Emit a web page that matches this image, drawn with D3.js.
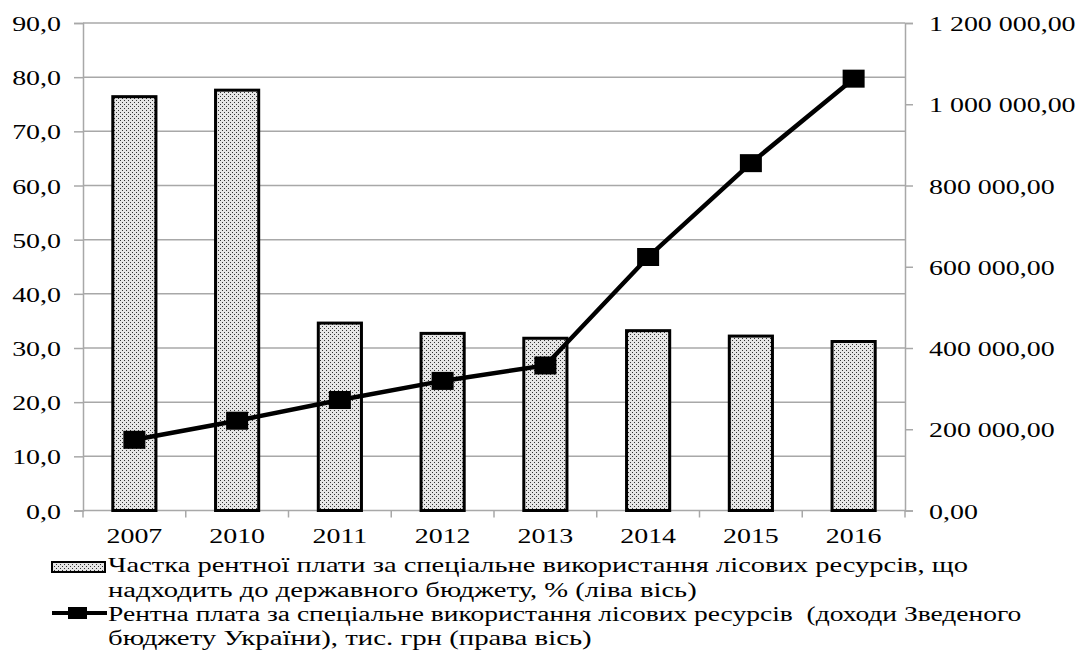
<!DOCTYPE html>
<html><head><meta charset="utf-8">
<script src="https://cdn.jsdelivr.net/npm/d3@7"></script>
<style>body{margin:0;background:#fff}svg{display:block}</style>
</head><body><svg id="c" width="1082" height="655"></svg>
<script>
const years = ["2007","2010","2011","2012","2013","2014","2015","2016"];
const shareValues = [76.4, 77.6, 34.6, 32.7, 31.8, 33.2, 32.2, 31.2];
const rentValues = [174000, 221000, 272000, 319000, 357000, 624000, 855000, 1063000];
const leftTicks = [0,10,20,30,40,50,60,70,80,90];
const rightTicks = [0,200000,400000,600000,800000,1000000,1200000];
const legendLines1 = ["Частка рентної плати за спеціальне використання лісових ресурсів, що","надходить до державного бюджету, % (ліва вісь)"];
const legendLines2 = ["Рентна плата за спеціальне використання лісових ресурсів  (доходи Зведеного","бюджету України), тис. грн (права вісь)"];

const FONT = "Liberation Serif";
const svg = d3.select("#c");
const L = 83, R = 905, T = 23, B = 510.5;
const STRETCH = 1.27;
const grid = "#a8a8a8";

const defs = svg.append("defs");
const pat = defs.append("pattern").attr("id","dots").attr("patternUnits","userSpaceOnUse").attr("width",4).attr("height",4);
pat.append("rect").attr("width",4).attr("height",4).attr("fill","#e6e6e6");
pat.append("rect").attr("x",0).attr("y",0).attr("width",1).attr("height",1).attr("fill","#333");
pat.append("rect").attr("x",2).attr("y",2).attr("width",1).attr("height",1).attr("fill","#333");

const x = d3.scaleBand().domain(years).range([L,R]).paddingInner(0.58).paddingOuter(0.29);
const yL = d3.scaleLinear().domain([0,90]).range([B,T]);
const yR = d3.scaleLinear().domain([0,1200000]).range([B,T]);
const step = x.step();

// add horizontally stretched text
function addText(parent, str, px, py, size, anchor, targetLen){
  const t = parent.append("text").attr("font-family",FONT).attr("fill","#000")
    .attr("font-size",size).attr("text-anchor",anchor).attr("xml:space","preserve").text(str);
  const n = t.node().getComputedTextLength();
  const sx = targetLen != null ? targetLen / n : STRETCH;
  t.attr("transform",`translate(${px},${py}) scale(${sx},1)`);
  return t;
}

svg.append("g").selectAll("line").data(leftTicks.filter(d=>d>0)).join("line")
  .attr("x1",L).attr("x2",R).attr("y1",d=>yL(d)).attr("y2",d=>yL(d))
  .attr("stroke",grid).attr("stroke-width",1.5);

const fmtL = d => d.toFixed(1).replace(".",",");
const fmtR = d => d3.format(",.2f")(d).replace(/,/g," ").replace(".",",");

const gL = svg.append("g").attr("transform",`translate(${L},0)`)
  .call(d3.axisLeft(yL).tickValues(leftTicks).tickSize(9).tickFormat(""));
const gR = svg.append("g").attr("transform",`translate(${R},0)`)
  .call(d3.axisRight(yR).tickValues(rightTicks).tickSize(8).tickFormat(""));
[gL,gR].forEach(g=>{g.selectAll("path,line").attr("stroke",grid).attr("stroke-width",1.5);});

svg.append("line").attr("x1",L).attr("x2",R).attr("y1",B).attr("y2",B).attr("stroke",grid).attr("stroke-width",1.5);
const bounds = years.map(d => x(d) - x.paddingInner()*step/2).concat([x(years[years.length-1]) + x.bandwidth() + x.paddingInner()*step/2]);
svg.append("g").selectAll("line").data(bounds).join("line")
  .attr("x1",d=>d).attr("x2",d=>d).attr("y1",B).attr("y2",B+7)
  .attr("stroke",grid).attr("stroke-width",1.5);

const gLT = svg.append("g");
leftTicks.forEach(d => addText(gLT, fmtL(d), 61, yL(d)+8, 22, "end"));
const gRT = svg.append("g");
rightTicks.forEach(d => addText(gRT, fmtR(d), 929, yR(d)+8, 22, "start"));
const gXT = svg.append("g");
years.forEach(d => addText(gXT, d, x(d)+x.bandwidth()/2, 543, 22, "middle"));

svg.append("g").selectAll("rect").data(years).join("rect")
  .attr("x",d=>x(d)).attr("width",x.bandwidth())
  .attr("y",(d,i)=>yL(shareValues[i])).attr("height",(d,i)=>B - yL(shareValues[i]))
  .attr("fill","url(#dots)").attr("stroke","#000").attr("stroke-width",3);

const line = d3.line().x((d,i)=>x(years[i])+x.bandwidth()/2).y(d=>yR(d));
svg.append("path").datum(rentValues).attr("d",line).attr("fill","none").attr("stroke","#000").attr("stroke-width",4.5);
svg.append("g").selectAll("rect").data(rentValues).join("rect")
  .attr("x",(d,i)=>x(years[i])+x.bandwidth()/2-11).attr("y",d=>yR(d)-9)
  .attr("width",22).attr("height",18).attr("fill","#000");

const lg = svg.append("g");
lg.append("rect").attr("x",52).attr("y",562).attr("width",53).attr("height",10)
  .attr("fill","url(#dots)").attr("stroke","#000").attr("stroke-width",2);
lg.append("line").attr("x1",52).attr("x2",107).attr("y1",613).attr("y2",613).attr("stroke","#000").attr("stroke-width",4);
lg.append("rect").attr("x",68).attr("y",607).attr("width",19).attr("height",12).attr("fill","#000");

const legendRows = [
  {t:legendLines1[0], y:572, end:968},
  {t:legendLines1[1], y:597, end:697},
  {t:legendLines2[0], y:621, end:1022},
  {t:legendLines2[1], y:645, end:592}
];
legendRows.forEach(r => addText(lg, r.t, 108, r.y, 20, "start", r.end-108));
</script></body></html>
